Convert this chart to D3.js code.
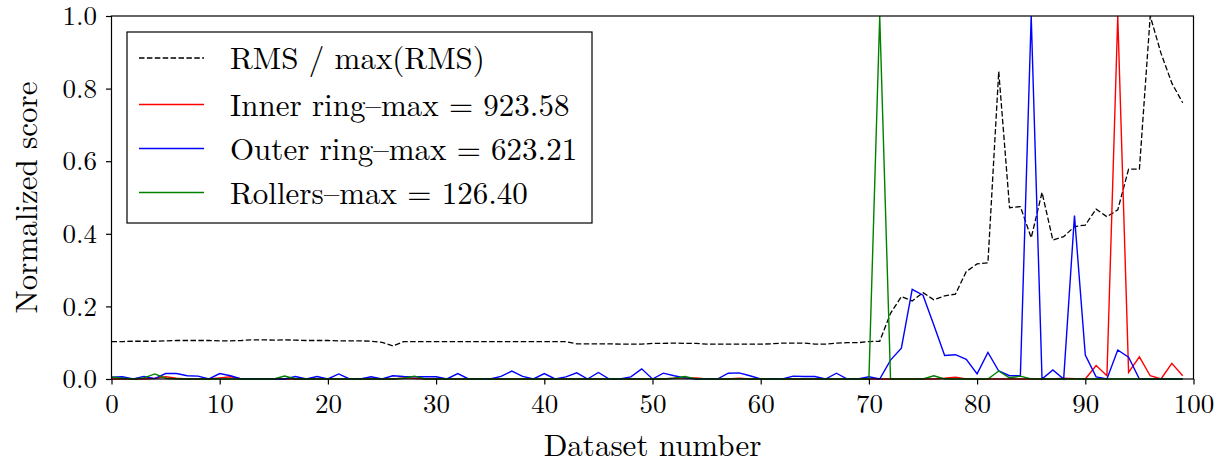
<!DOCTYPE html>
<html><head><meta charset="utf-8">
<script src="https://cdn.jsdelivr.net/npm/d3@7"></script>
<style>
html,body{margin:0;padding:0;background:#fff;}
svg{display:block;}
</style></head>
<body>
<svg id="chart" width="1229" height="464"></svg>
<script>
const datasetIndex = d3.range(0, 100);
const rmsValues = [0.103,0.103,0.104,0.104,0.104,0.105,0.106,0.106,0.106,0.106,
0.105,0.105,0.106,0.108,0.108,0.107,0.108,0.107,0.106,0.106,
0.106,0.105,0.105,0.105,0.104,0.101,0.091,0.103,0.103,0.103,
0.103,0.103,0.103,0.103,0.103,0.103,0.103,0.103,0.103,0.103,
0.103,0.103,0.103,0.097,0.097,0.097,0.097,0.096,0.096,0.096,
0.098,0.098,0.099,0.098,0.098,0.096,0.096,0.096,0.096,0.096,
0.096,0.097,0.099,0.099,0.099,0.096,0.096,0.099,0.100,0.100,
0.103,0.104,0.181,0.227,0.215,0.238,0.218,0.229,0.234,0.296,
0.317,0.320,0.847,0.472,0.475,0.389,0.514,0.383,0.392,0.420,
0.424,0.468,0.447,0.466,0.578,0.578,1.000,0.897,0.815,0.761];
const innerValues = [0,0,0,0,0.002,0.006,0.002,0,0,0,
0.003,0.006,0,0,0,0,0,0,0,0,
0,0,0,0,0,0,0,0.003,0.002,0,
0,0,0,0,0,0,0,0,0,0,
0,0,0,0,0,0,0,0,0,0,
0,0,0.002,0.003,0.003,0,0,0,0.002,0,
0,0,0,0,0,0,0,0,0,0,
0,0,0,0,0,0,0,0.002,0.005,0,
0,0,0,0,0,0,0,0,0.002,0.001,
0,0.037,0.009,1.000,0.018,0.061,0.009,0,0.043,0.009];
const outerValues = [0.005,0.006,0,0.007,0.001,0.015,0.015,0.009,0.008,0,
0.015,0.009,0,0,0,0,0,0.007,0,0.007,
0,0.014,0,0,0.006,0,0.009,0.007,0.006,0.006,
0.006,0,0.015,0,0,0,0.007,0.022,0.007,0,
0.015,0,0.006,0.017,0,0.018,0,0,0.006,0.028,
0,0.016,0.009,0.003,0,0,0,0.016,0.017,0.009,
0,0,0,0.008,0.007,0.007,0,0.016,0,0,
0.006,0,0.052,0.085,0.247,0.231,0.149,0.065,0.067,0.054,
0.014,0.073,0.022,0.009,0.009,1.000,0,0.025,0,0.450,
0.066,0.006,0,0.080,0.060,0,0,0,0,0];
const rollerValues = [0.006,0.002,0,0.003,0.014,0.002,0,0,0,0,
0,0,0,0,0,0,0.008,0,0,0,
0,0,0,0,0,0,0,0.002,0.008,0,
0,0,0,0,0,0,0,0,0,0,
0,0,0,0,0,0,0,0,0,0,
0,0,0.002,0.007,0,0,0,0,0,0,
0,0,0,0,0,0,0,0,0,0,
0,1.000,0,0,0,0,0.009,0,0,0,
0,0,0.022,0.003,0.008,0,0,0,0,0,
0,0,0,0,0,0,0,0,0,0];
const xTicks = [0,10,20,30,40,50,60,70,80,90,100];
const yTicks = [0,0.2,0.4,0.6,0.8,1.0];
const legendLabels = ["RMS / max(RMS)","Inner ring\u2013max = 923.58","Outer ring\u2013max = 623.21","Rollers\u2013max = 126.40"];
const seriesColors = ["#000000","#ff0000","#0000ff","#008000"];

const FONT = '"Latin Modern Roman","CMU Serif","Liberation Serif",serif';
const svg = d3.select("#chart");
const L=111.5, R=1193.5, T=16, B=379;
const x = d3.scaleLinear().domain([0,100]).range([L,R]);
const y = d3.scaleLinear().domain([0,1]).range([B,T]);

const series = [rmsValues, innerValues, outerValues, rollerValues];
const line = d3.line().x((d,i)=>x(datasetIndex[i])).y(d=>y(d));

series.forEach((vals,k)=>{
  svg.append("path").datum(vals)
    .attr("d", line)
    .attr("fill","none")
    .attr("stroke", seriesColors[k])
    .attr("stroke-width", k===0?1.3:1.4)
    .attr("stroke-dasharray", k===0?"5.5,2.4":null)
    .attr("stroke-linejoin","miter");
});

// axes
const xAxis = svg.append("g").attr("transform",`translate(0,${B})`)
  .call(d3.axisBottom(x).tickValues(xTicks).tickFormat(d3.format("d")).tickSize(5.5).tickPadding(9));
const yAxis = svg.append("g").attr("transform",`translate(${L},0)`)
  .call(d3.axisLeft(y).tickValues(yTicks).tickFormat(d3.format(".1f")).tickSize(5.5).tickPadding(9));
[xAxis,yAxis].forEach(g=>{
  g.select(".domain").remove();
  g.selectAll(".tick line").attr("stroke","#000").attr("stroke-width",1.2);
  g.selectAll(".tick text").style("font-family",FONT).style("font-size","27px").attr("fill","#000");
});
// frame
svg.append("rect").attr("x",L).attr("y",T).attr("width",R-L).attr("height",B-T)
  .attr("fill","none").attr("stroke","#000").attr("stroke-width",1.2);

// axis labels
svg.append("text").attr("x",(L+R)/2).attr("y",456).attr("text-anchor","middle")
  .style("font-family",FONT).style("font-size","31px").text("Dataset number");
svg.append("text").attr("transform",`translate(37,${(T+B)/2}) rotate(-90)`).attr("text-anchor","middle")
  .style("font-family",FONT).style("font-size","31px").text("Normalized score");

// legend
const lg = svg.append("g");
lg.append("rect").attr("x",127).attr("y",32).attr("width",465).attr("height",191)
  .attr("fill","#fff").attr("stroke","#000").attr("stroke-width",1.2);
const rowY = [58,104.5,148.5,192.5];
legendLabels.forEach((lab,k)=>{
  lg.append("line").attr("x1",139).attr("x2",204).attr("y1",rowY[k]).attr("y2",rowY[k])
    .attr("stroke",seriesColors[k]).attr("stroke-width",k===0?1.3:1.4)
    .attr("stroke-dasharray",k===0?"5.5,2.4":null);
  lg.append("text").attr("x",230).attr("y",rowY[k]+11)
    .style("font-family",FONT).style("font-size","31px").text(lab);
});
</script>
</body></html>
